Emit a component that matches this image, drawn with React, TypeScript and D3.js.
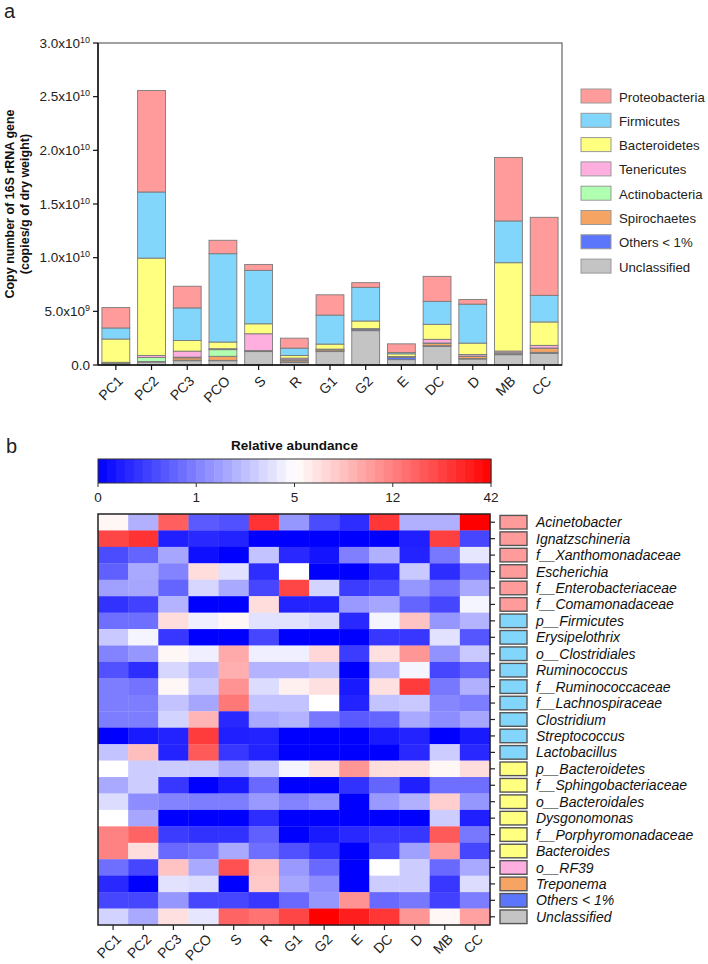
import React from "react";
import * as d3 from "d3";

const W = 708;
const H = 964;
const font = "Liberation Sans, Arial, sans-serif";

// ---- panel a: 16S copy numbers (x 1e9 copies/g dry weight)
const samples = ["PC1", "PC2", "PC3", "PCO", "S", "R", "G1", "G2", "E", "DC", "D", "MB", "CC"];
const phyla = ["Unclassified", "Others < 1%", "Spirochaetes", "Actinobacteria", "Tenericutes", "Bacteroidetes", "Firmicutes", "Proteobacteria"];
const phylumColors = ["#c4c4c4", "#5b75fb", "#f5a463", "#b0ffb0", "#ffaee0", "#ffff80", "#82d5fb", "#ff9b9b"];

const proteobacteria = [1.9, 9.46, 2.02, 1.25, 0.55, 0.93, 1.89, 0.43, 0.81, 2.33, 0.44, 5.92, 7.27];
const firmicutes = [1.03, 6.16, 3.04, 8.23, 4.98, 0.68, 2.7, 3.14, 0.12, 2.14, 3.63, 3.89, 2.48];
const bacteroidetes = [2.17, 9.07, 0.99, 0.62, 0.93, 0.25, 0.47, 0.71, 0.25, 1.4, 1.06, 8.23, 2.18];
const tenericutes = [0.03, 0.19, 0.56, 0.09, 1.57, 0.15, 0.03, 0.02, 0.02, 0.34, 0.15, 0.16, 0.25];
const actinobacteria = [0.05, 0.37, 0.06, 0.62, 0.02, 0.05, 0.03, 0.02, 0.02, 0.03, 0.03, 0.1, 0.03];
const spirochaetes = [0.04, 0.03, 0.22, 0.38, 0.02, 0.15, 0.12, 0.05, 0.03, 0.22, 0.2, 0.03, 0.37];
const othersLow = [0.03, 0.02, 0.05, 0.03, 0.05, 0.04, 0.05, 0.1, 0.22, 0.06, 0.04, 0.05, 0.09];
const unclassified = [0.1, 0.28, 0.4, 0.4, 1.25, 0.25, 1.25, 3.2, 0.5, 1.74, 0.56, 0.96, 1.09];

const yTicks = [0, 5e9, 1e10, 1.5e10, 2e10, 2.5e10, 3e10];
const yTickMant = ["0.0", "5.0x10", "1.0x10", "1.5x10", "2.0x10", "2.5x10", "3.0x10"];
const yTickExp = ["", "9", "10", "10", "10", "10", "10"];

// ---- panel b: relative abundance heatmap
const taxa = [
  "Acinetobacter", "Ignatzschineria", "f__Xanthomonadaceae", "Escherichia", "f__Enterobacteriaceae",
  "f__Comamonadaceae", "p__Firmicutes", "Erysipelothrix", "o__Clostridiales", "Ruminococcus",
  "f__Ruminococcaceae", "f__Lachnospiraceae", "Clostridium", "Streptococcus", "Lactobacillus",
  "p__Bacteroidetes", "f__Sphingobacteriaceae", "o__Bacteroidales", "Dysgonomonas",
  "f__Porphyromonadaceae", "Bacteroides", "o__RF39", "Treponema", "Others < 1%", "Unclassified",
];
const taxonPhylum = [
  "Proteobacteria", "Proteobacteria", "Proteobacteria", "Proteobacteria", "Proteobacteria", "Proteobacteria",
  "Firmicutes", "Firmicutes", "Firmicutes", "Firmicutes", "Firmicutes", "Firmicutes", "Firmicutes", "Firmicutes", "Firmicutes",
  "Bacteroidetes", "Bacteroidetes", "Bacteroidetes", "Bacteroidetes", "Bacteroidetes", "Bacteroidetes",
  "Tenericutes", "Spirochaetes", "Others < 1%", "Unclassified",
];
const abundance = [
  [5.5, 2.5, 19.7, 0.7, 0.63, 30, 1.7, 0.59, 0.35, 29, 2.5, 2.5, 42],
  [25.5, 30, 0.24, 0.31, 0.27, 0, 0, 0, 0, 0, 0.24, 27, 0.55],
  [0.59, 0.78, 2.2, 0.12, 0, 3.1, 0.31, 0.16, 1.0, 2.5, 0.27, 0.94, 4.2],
  [0.75, 2.3, 1.08, 6.9, 4.06, 0.35, 5.0, 0, 0, 0.31, 3.3, 0.35, 0.86],
  [2.0, 2.2, 0.78, 3.7, 2.3, 0.55, 25.5, 3.6, 0.47, 0.59, 1.7, 0.9, 2.3],
  [0.39, 0.51, 2.6, 0, 0, 6.9, 0.27, 0.27, 1.8, 2.2, 0.78, 0.55, 4.7],
  [0.86, 0.86, 6.9, 4.5, 5.5, 4.1, 4.1, 3.7, 0.31, 4.7, 8.3, 1.7, 2.6],
  [3.3, 4.7, 0.43, 0, 0, 0.55, 0, 0, 0, 0.43, 0.43, 4.1, 0.67],
  [1.1, 1.7, 5.5, 4.5, 9.7, 4.5, 4.5, 7.2, 0.47, 6.7, 10.8, 1.55, 3.3],
  [0.63, 0.35, 3.7, 2.6, 9.4, 2.6, 2.6, 3.0, 0, 2.6, 4.7, 0.55, 0.78],
  [0.98, 0.9, 5.5, 3.3, 11, 3.9, 5.8, 6.7, 0.2, 6.7, 28, 0.94, 2.5],
  [0.98, 0.98, 3.1, 2.2, 13.8, 3.1, 3.1, 5, 0.27, 3.1, 3.3, 1.2, 0.98],
  [0.98, 0.98, 3.6, 9.1, 0.31, 2.3, 2.6, 0.94, 0.7, 0.78, 2.3, 1.4, 2.2],
  [0, 0.2, 0.27, 28, 0.24, 0.27, 0, 0, 0, 0.2, 0.27, 0, 0.2],
  [3.1, 8.6, 0.27, 20.9, 0.43, 0.27, 0, 0, 0, 0, 0.31, 3.4, 0.31],
  [5, 3.4, 3.4, 3.3, 2.3, 3.1, 4.7, 6.7, 10.8, 6.9, 6.9, 5.5, 6.9],
  [2.3, 3.4, 0.43, 0, 0.2, 0.82, 0, 0, 0.39, 0.78, 0.24, 0.86, 0.86],
  [3.9, 1.4, 1.1, 0.98, 0.98, 1.8, 1.1, 1.55, 0, 1.8, 2.5, 7.7, 1.7],
  [5, 2.2, 0, 0, 0, 0.35, 0, 0, 0, 0, 0, 3.4, 0.24],
  [11.9, 18.5, 0.47, 0.39, 0.39, 0.75, 0, 0.2, 0.31, 0.43, 0.43, 20.9, 0.94],
  [11.9, 6.9, 0.82, 0.9, 2.3, 0.86, 0.63, 0.39, 0, 0.55, 2.0, 10.5, 0.55],
  [0.86, 0.55, 8.3, 2.3, 23, 8.3, 1.8, 0.82, 0, 5, 3.4, 0.82, 2.3],
  [0.31, 0, 4.1, 3.9, 0, 8.0, 2.2, 1.4, 0, 3.4, 3.4, 0.43, 3.9],
  [0.55, 0.55, 1.7, 0.55, 0.55, 0.43, 0.82, 1.7, 11, 0.82, 0.94, 0.51, 0.98],
  [3.6, 2.3, 6.7, 4.2, 18.5, 15, 25.5, 42, 35, 29, 10.8, 5.5, 10.2],
];
const scaleTicks = [0, 1, 5, 12, 42];

const barM = { left: 98, right: 562, top: 43, bottom: 365 };
const heat = { left: 98, right: 490, top: 514, bottom: 925 };
const bar = { left: 98, right: 491, top: 459, bottom: 483 };

export default function App() {
  const series = [unclassified, othersLow, spirochaetes, actinobacteria, tenericutes, bacteroidetes, firmicutes, proteobacteria];
  const table = samples.map((s, i) => {
    const row: any = { sample: s };
    phyla.forEach((p, k) => (row[p] = series[k][i] * 1e9));
    return row;
  });
  const stacked = d3.stack().keys(phyla)(table);
  const color = d3.scaleOrdinal<string, string>().domain(phyla).range(phylumColors);

  const x = d3.scaleBand().domain(samples).range([barM.left, barM.right]).paddingInner(0.22).paddingOuter(0.11);
  const y = d3.scaleLinear().domain([0, 3e10]).range([barM.bottom, barM.top]);

  const legendOrder = [...phyla].reverse();

  // heatmap scales
  const hx = d3.scaleBand().domain(samples).range([heat.left, heat.right]);
  const hy = d3.scaleBand().domain(taxa).range([heat.top, heat.bottom]);
  const heatColor = d3
    .scaleLinear<string>()
    .domain(scaleTicks)
    .range(["#0000ff", "#8080ff", "#ffffff", "#ff8080", "#ff0000"])
    .interpolate(d3.interpolateRgb)
    .clamp(true);
  const barPos = d3
    .scaleLinear()
    .domain(scaleTicks)
    .range(d3.range(5).map((i) => bar.left + ((bar.right - bar.left) * i) / 4));
  const nSteps = 44;
  const stepW = (bar.right - bar.left) / nSteps;

  return (
    <svg width={W} height={H} style={{ position: "absolute", left: 0, top: 0, display: "block" }} fontFamily={font}>
      <rect width={W} height={H} fill="#fff" />
      {/* panel a */}
      <text x={4} y={18} fontSize={20} fill="#222">a</text>
      <g fontWeight="bold" fontSize={12.5} fill="#111" textAnchor="middle">
        <text transform={`translate(14,204) rotate(-90)`}>Copy number of 16S rRNA gene</text>
        <text transform={`translate(29,204) rotate(-90)`}>(copies/g of dry weight)</text>
      </g>
      <g>
        {stacked.map((layer) => (
          <g key={layer.key} fill={color(layer.key)}>
            {layer.map((d: any, i) => (
              <rect
                key={i}
                x={x(samples[i])}
                width={x.bandwidth()}
                y={y(d[1])}
                height={Math.max(0, y(d[0]) - y(d[1]))}
                stroke="#7a7a7a"
                strokeWidth={0.9}
              />
            ))}
          </g>
        ))}
      </g>
      {/* frame */}
      <rect x={barM.left} y={barM.top} width={barM.right - barM.left} height={barM.bottom - barM.top} fill="none" stroke="#444" strokeWidth={1} />
      <line x1={barM.left} x2={barM.left} y1={barM.top} y2={barM.bottom} stroke="#111" strokeWidth={1.5} />
      <line x1={barM.left} x2={barM.right} y1={barM.bottom} y2={barM.bottom} stroke="#111" strokeWidth={1.5} />
      {yTicks.map((t, i) => (
        <g key={t} transform={`translate(${barM.left},${y(t)})`}>
          <line x1={-5} x2={0} stroke="#111" strokeWidth={1.2} />
          <text x={-8} dy="0.35em" textAnchor="end" fontSize={13.5} fill="#222">
            {yTickMant[i]}
            {yTickExp[i] && (
              <tspan dy={-5} fontSize={9}>{yTickExp[i]}</tspan>
            )}
          </text>
        </g>
      ))}
      {samples.map((s) => {
        const cx = (x(s) as number) + x.bandwidth() / 2;
        return (
          <g key={s}>
            <line x1={cx} x2={cx} y1={barM.bottom} y2={barM.bottom + 5} stroke="#111" strokeWidth={1.2} />
            <text transform={`translate(${cx + 8},${barM.bottom + 17}) rotate(-45)`} textAnchor="end" fontSize={14} fill="#222">
              {s}
            </text>
          </g>
        );
      })}
      {legendOrder.map((p, i) => (
        <g key={p} transform={`translate(581,${89 + i * 24.3})`}>
          <rect width={30} height={14} fill={color(p)} stroke="#999" strokeWidth={1} />
          <text x={38} y={12.5} fontSize={13.2} fill="#222">{p}</text>
        </g>
      ))}

      {/* panel b */}
      <text x={6} y={453} fontSize={20} fill="#222">b</text>
      <text x={(bar.left + bar.right) / 2} y={450} textAnchor="middle" fontSize={13.5} fontWeight="bold" fill="#111">
        Relative abundance
      </text>
      {d3.range(nSteps).map((i) => (
        <rect
          key={i}
          x={bar.left + i * stepW}
          y={bar.top}
          width={stepW + 0.5}
          height={bar.bottom - bar.top}
          fill={heatColor(barPos.invert(bar.left + (i + 0.5) * stepW))}
        />
      ))}
      <rect x={bar.left} y={bar.top} width={bar.right - bar.left} height={bar.bottom - bar.top} fill="none" stroke="#333" strokeWidth={1} />
      {scaleTicks.map((t) => (
        <g key={t} transform={`translate(${barPos(t)},${bar.bottom})`}>
          <line y1={0} y2={4} stroke="#333" />
          <text y={19} textAnchor="middle" fontSize={13.5} fill="#222">{t}</text>
        </g>
      ))}

      {abundance.map((row, r) =>
        row.map((v, c) => (
          <rect
            key={`${r}_${c}`}
            x={hx(samples[c])}
            y={hy(taxa[r])}
            width={hx.bandwidth() + 0.3}
            height={hy.bandwidth() + 0.3}
            fill={heatColor(v)}
          />
        ))
      )}
      <rect x={heat.left} y={heat.top} width={heat.right - heat.left} height={heat.bottom - heat.top} fill="none" stroke="#222" strokeWidth={1.5} />
      {taxa.map((t, i) => {
        const cy = (hy(t) as number) + hy.bandwidth() / 2;
        return (
          <g key={t}>
            <line x1={heat.right} x2={heat.right + 5} y1={cy} y2={cy} stroke="#222" strokeWidth={1.2} />
            <rect x={500} y={cy - 6.8} width={27} height={13.6} fill={color(taxonPhylum[i])} stroke="#555" strokeWidth={1.4} />
            <text x={536} y={cy} dy="0.36em" fontSize={14} fontStyle="italic" fill="#111">{t}</text>
          </g>
        );
      })}
      {samples.map((s) => {
        const cx = (hx(s) as number) + hx.bandwidth() / 2;
        return (
          <g key={s}>
            <line x1={cx} x2={cx} y1={heat.bottom} y2={heat.bottom + 5} stroke="#222" strokeWidth={1.2} />
            <text transform={`translate(${cx + 9},${heat.bottom + 15}) rotate(-45)`} textAnchor="end" fontSize={14} fill="#222">
              {s}
            </text>
          </g>
        );
      })}
    </svg>
  );
}
